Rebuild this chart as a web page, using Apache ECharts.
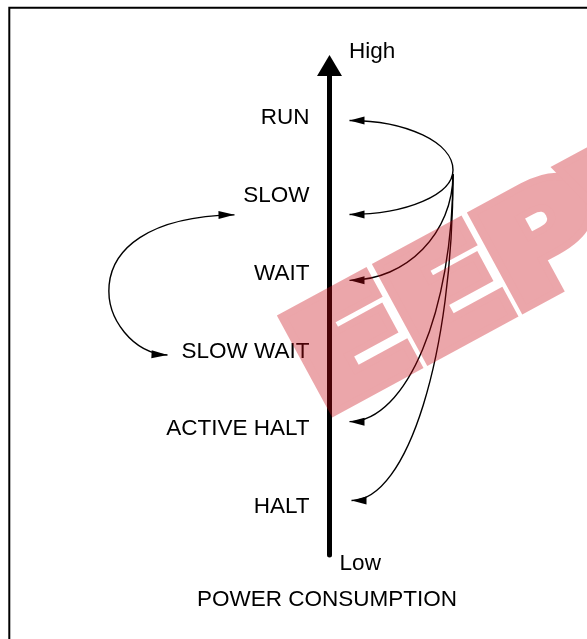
<!DOCTYPE html>
<html><head><meta charset="utf-8">
<script src="https://cdn.jsdelivr.net/npm/echarts@6/dist/echarts.min.js"></script>
<style>html,body{margin:0;padding:0;background:#fff}#c{width:587px;height:639px}</style>
</head><body><div id="c"></div>
<script>
// ---- data ----
const states = ['RUN', 'SLOW', 'WAIT', 'SLOW WAIT', 'ACTIVE HALT', 'HALT'];
const stateLevels = [6, 5, 4, 3, 2, 1];
const axisEnds = ['High', 'Low'];
const axisTitle = 'POWER CONSUMPTION';
// transitions out of RUN (start point on the right, end near each state)
const runTargets = ['RUN', 'SLOW', 'WAIT', 'ACTIVE HALT', 'HALT'];
const runStartX = [123.5, 123.5, 123.5, 123.5, 123.5];
const runStartLevels = [5.325, 5.325, 5.27, 5.27, 5.27];
const runEndX = [20, 20, 20, 20, 22];
const runEndLevels = [5.96, 4.755, 3.91, 2.098, 1.087];
// SLOW <-> SLOW WAIT double arrow on the left
const loopStates = ['SLOW', 'SLOW WAIT'];
const loopX = [-95, -162];
const loopLevels = [4.75, 2.953];
const watermarkLetters = ['E', 'E', 'P', 'W'];

const FONT = "'Liberation Sans', Arial, Helvetica, sans-serif";
const chart = echarts.init(document.getElementById('c'), null, {renderer: 'canvas'});

function arrowHead(tip, from, L, w) {
  const dx = tip[0] - from[0], dy = tip[1] - from[1];
  const len = Math.hypot(dx, dy) || 1;
  const ux = dx / len, uy = dy / len;
  const bx = tip[0] - ux * L, by = tip[1] - uy * L;
  return {
    type: 'polygon',
    shape: {points: [[tip[0], tip[1]], [bx - uy * w, by + ux * w], [bx + uy * w, by - ux * w]]},
    style: {fill: '#000', stroke: null}
  };
}

const runData = runTargets.map((s, i) => [runStartX[i], runStartLevels[i], runEndX[i], runEndLevels[i], s]);
const loopData = [[loopX[0], loopLevels[0], loopX[1], loopLevels[1], loopStates.join('-')]];

const option = {
  animation: false,
  backgroundColor: '#fff',
  grid: {left: 0, right: 0, top: 65.5, bottom: 84, containLabel: false},
  xAxis: {type: 'value', min: -329.5, max: 257.5, show: false},
  yAxis: {
    type: 'value', min: 0.388, max: 6.665,
    axisLine: {show: true, onZero: true, symbol: ['none', 'triangle'], symbolSize: [25, 21],
      lineStyle: {color: '#000', width: 5}},
    axisTick: {show: false}, axisLabel: {show: false}, splitLine: {show: false}
  },
  series: [
    {
      type: 'scatter', symbolSize: 0, clip: false, silent: true,
      itemStyle: {opacity: 1},
      data: states.map((s, i) => ({name: s, value: [0, stateLevels[i]]})),
      label: {show: true, position: 'left', distance: 20, formatter: '{b}', opacity: 1,
        color: '#000', fontSize: 22.5, fontFamily: FONT}
    },
    {
      type: 'custom', clip: false, silent: true, data: runData,
      renderItem: function (params, api) {
        const p0 = api.coord([api.value(0), api.value(1)]);
        const p3 = api.coord([api.value(2), api.value(3)]);
        const k = 0.5523;
        const c1 = [p0[0], p0[1] + k * (p3[1] - p0[1])];
        const c2 = [p3[0] + k * (p0[0] - p3[0]), p3[1]];
        return {type: 'group', children: [
          {type: 'bezierCurve', shape: {x1: p0[0], y1: p0[1], x2: p3[0], y2: p3[1],
            cpx1: c1[0], cpy1: c1[1], cpx2: c2[0], cpy2: c2[1]},
            style: {stroke: '#000', lineWidth: 1.4, fill: null}},
          arrowHead(p3, c2, 15, 4)
        ]};
      }
    },
    {
      type: 'custom', clip: false, silent: true, data: loopData,
      renderItem: function (params, api) {
        const p0 = api.coord([api.value(0), api.value(1)]);
        const p3 = api.coord([api.value(2), api.value(3)]);
        const c1 = [p0[0] - 177, p0[1] + 3];
        const c2 = [p3[0] - 68, p3[1] - 3];
        return {type: 'group', children: [
          {type: 'bezierCurve', shape: {x1: p0[0], y1: p0[1], x2: p3[0], y2: p3[1],
            cpx1: c1[0], cpy1: c1[1], cpx2: c2[0], cpy2: c2[1]},
            style: {stroke: '#000', lineWidth: 1.4, fill: null}},
          arrowHead(p0, c1, 16, 4),
          arrowHead(p3, c2, 16, 4)
        ]};
      }
    }
  ]
};
chart.setOption(option);

const px = v => chart.convertToPixel({gridIndex: 0}, v);
const pHigh = px([19.5, 6.842]);
const pLow = px([10.1, 0.278]);
const pTitle = px([-2.5, -0.189]);

const wmOffsets = [-6, 102, 210, 318];
chart.setOption({
  graphic: [
    {type: 'rect', z: 50, silent: true, shape: {x: 9.3, y: 7.7, width: 700, height: 700},
      style: {fill: null, stroke: '#000', lineWidth: 2}},
    {type: 'text', z: 50, x: pHigh[0], y: pHigh[1], style: {text: axisEnds[0], align: 'left',
      verticalAlign: 'middle', fontSize: 22.5, fontFamily: FONT, fill: '#000'}},
    {type: 'text', z: 50, x: pLow[0], y: pLow[1], style: {text: axisEnds[1], align: 'left',
      verticalAlign: 'middle', fontSize: 22.5, fontFamily: FONT, fill: '#000'}},
    {type: 'text', z: 50, x: pTitle[0], y: pTitle[1], style: {text: axisTitle, align: 'center',
      verticalAlign: 'middle', fontSize: 22.5, fontFamily: FONT, fill: '#000'}},
    // watermark (own layer, faded)
    {type: 'group', zlevel: 1, z: 200, silent: true, x: 275, y: 314, rotation: 28.5 * Math.PI / 180,
      children: watermarkLetters.map((ch, i) => ({
        type: 'text', zlevel: 1, z: 200, x: wmOffsets[i], y: 75, scaleX: 1.2,
        style: {text: ch, align: 'left', verticalAlign: 'middle', fontSize: 140,
          fontWeight: 'bold', fontFamily: "'DejaVu Sans', sans-serif",
          fill: 'rgb(202,8,19)', stroke: 'rgb(202,8,19)', lineWidth: 14, lineJoin: 'miter'}
      }))}
  ]
});

function fadeWatermark() {
  const cs = document.querySelectorAll('#c canvas');
  for (let i = 1; i < cs.length; i++) cs[i].style.opacity = '0.36';
}
fadeWatermark();
chart.on('finished', fadeWatermark);
</script>
</body></html>
